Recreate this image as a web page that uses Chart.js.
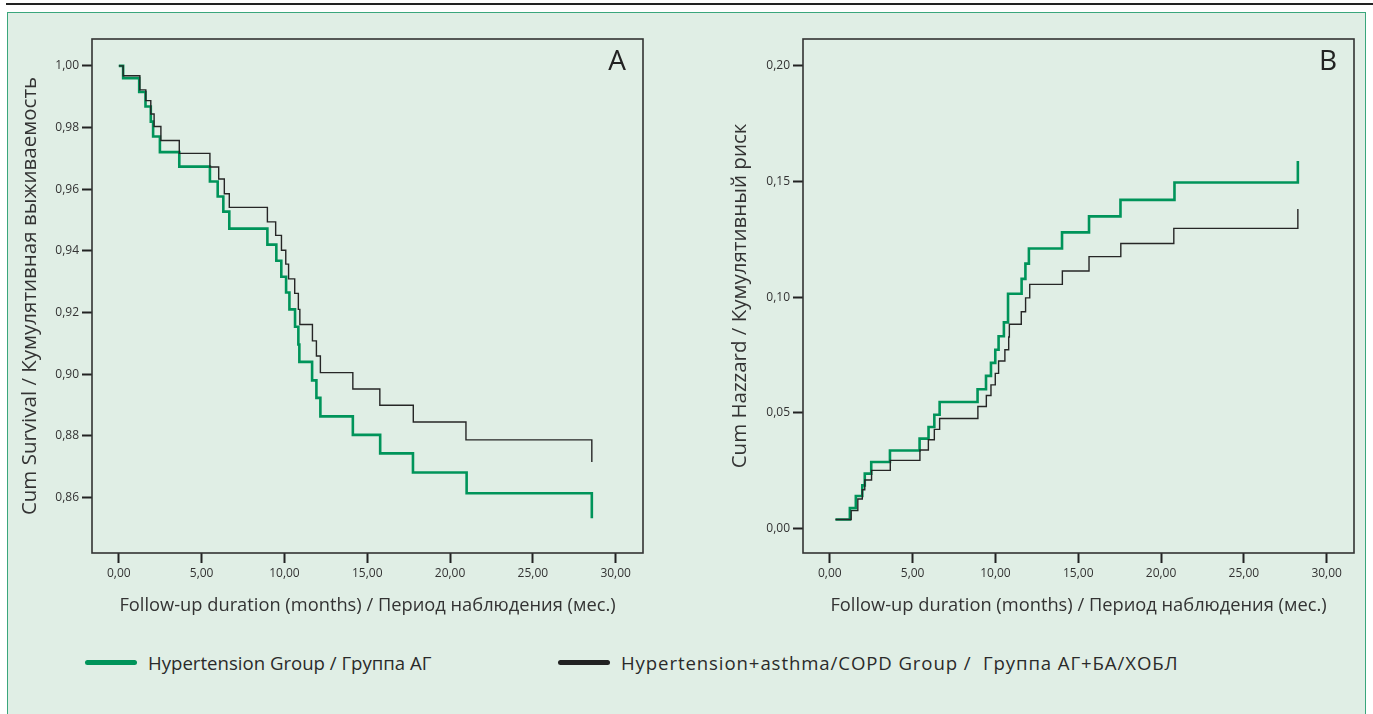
<!DOCTYPE html>
<html>
<head>
<meta charset="utf-8">
<script src="https://cdn.jsdelivr.net/npm/chart.js@4.4.1/dist/chart.umd.min.js"></script>
<style>
  html, body { margin: 0; padding: 0; background: #fff; }
  body { width: 1373px; height: 714px; position: relative; overflow: hidden; font-family: "Open Sans", sans-serif; }
  #topline { position: absolute; left: 6px; top: 3px; width: 1367px; height: 1.5px; background: #222; }
  #panel { position: absolute; left: 7px; top: 12px; width: 1357px; height: 720px; background: #e0eee5; border: 1.5px solid #3aa67c; }
  canvas { position: absolute; top: 0; }
  #chartA { left: 0; }
  #chartB { left: 690px; }
  .legend-item { position: absolute; top: 650px; display: flex; align-items: center; color: #2a2a2a; font-size: 18.6px; white-space: pre; }
  .swatch { width: 52px; height: 5px; border-radius: 3px; margin-right: 11px; }
</style>
</head>
<body>
<div id="topline"></div>
<div id="panel"></div>
<canvas id="chartA" width="690" height="640"></canvas>
<canvas id="chartB" width="683" height="640"></canvas>
<div class="legend-item" style="left:85px"><div class="swatch" style="background:#00945a"></div>Hypertension Group / Группа АГ</div>
<div class="legend-item" style="left:558px; letter-spacing:0.9px"><div class="swatch" style="background:#222"></div>Hypertension+asthma/COPD Group /  Группа АГ+БА/ХОБЛ</div>
<script>
const xTickValues = [0, 5, 10, 15, 20, 25, 30];
const survivalTicks = [0.86, 0.88, 0.90, 0.92, 0.94, 0.96, 0.98, 1.00];
const hazardTicks = [0, 0.05, 0.10, 0.15, 0.20];

const groupNames = ["Hypertension Group / Группа АГ", "Hypertension+asthma/COPD Group / Группа АГ+БА/ХОБЛ"];

// panel A - survival
const survGreenTime = [0, 0.26, 1.23, 1.61, 1.93, 2.07, 2.48, 3.65, 5.5, 5.97, 6.31, 6.67, 8.97, 9.51, 9.81, 10.1, 10.3, 10.64, 10.84, 10.9, 11.67, 11.93, 12.17, 14.13, 15.78, 17.76, 21.0, 28.56, 28.56];
const survGreenValue = [1.0, 0.996, 0.9915, 0.9868, 0.9819, 0.9771, 0.972, 0.9673, 0.9625, 0.9576, 0.9527, 0.9472, 0.942, 0.9368, 0.9316, 0.9265, 0.921, 0.9154, 0.9096, 0.904, 0.898, 0.8923, 0.8863, 0.8803, 0.8743, 0.8681, 0.8614, 0.8614, 0.8533];
const survBlackTime = [0, 0.26, 1.27, 1.63, 1.93, 2.13, 2.54, 3.65, 5.5, 6.03, 6.37, 6.67, 8.97, 9.47, 9.82, 10.08, 10.25, 10.62, 10.84, 10.93, 11.69, 11.93, 12.17, 14.13, 15.76, 17.78, 20.96, 28.56, 28.56];
const survBlackValue = [1.0, 0.9968, 0.9922, 0.9887, 0.9844, 0.9803, 0.9758, 0.9716, 0.9672, 0.9633, 0.9585, 0.9541, 0.9494, 0.945, 0.9402, 0.9357, 0.9309, 0.9262, 0.921, 0.9161, 0.9108, 0.9059, 0.9005, 0.8952, 0.8899, 0.8845, 0.8787, 0.8787, 0.8715];

// panel B - cumulative hazard
const hazGreenTime = [0.34, 1.21, 1.57, 1.96, 2.11, 2.5, 3.63, 5.42, 5.96, 6.31, 6.63, 8.92, 9.43, 9.73, 9.99, 10.19, 10.51, 10.76, 11.58, 11.81, 12.02, 14.02, 15.65, 17.55, 20.81, 28.26, 28.26];
const hazGreenValue = [0.004, 0.0089, 0.0141, 0.0187, 0.0238, 0.0288, 0.0338, 0.0389, 0.0439, 0.0492, 0.0547, 0.0602, 0.066, 0.0716, 0.0773, 0.0831, 0.0891, 0.1015, 0.1079, 0.1145, 0.121, 0.128, 0.1349, 0.142, 0.1495, 0.1495, 0.1588];
const hazBlackTime = [0.34, 1.29, 1.69, 1.96, 2.11, 2.52, 3.65, 5.44, 5.95, 6.31, 6.63, 8.94, 9.45, 9.73, 9.99, 10.19, 10.57, 10.8, 10.84, 11.56, 11.82, 12.07, 14.04, 15.65, 17.57, 20.77, 28.26, 28.26];
const hazBlackValue = [0.004, 0.0078, 0.0128, 0.0168, 0.021, 0.0252, 0.0295, 0.034, 0.0384, 0.0429, 0.0476, 0.0528, 0.0575, 0.0621, 0.0671, 0.0724, 0.0773, 0.0828, 0.0883, 0.0937, 0.0997, 0.1055, 0.1113, 0.1175, 0.1232, 0.1297, 0.1297, 0.1381];

const GREEN = "#00945a";
const BLACK = "#262626";
const TEXT = "#333";

function points(ts, vs) {
  return ts.map((t, i) => ({ x: t, y: vs[i] }));
}

function comma(v) {
  return Number(v).toFixed(2).replace(".", ",");
}

const frameAndLetter = {
  id: "frameAndLetter",
  afterDraw(chart, args, opts) {
    const { ctx, chartArea: a } = chart;
    ctx.save();
    ctx.strokeStyle = "#333";
    ctx.lineWidth = 1.6;
    ctx.strokeRect(a.left, a.top, a.right - a.left, a.bottom - a.top);
    ctx.fillStyle = "#222";
    ctx.font = "28px 'Open Sans'";
    ctx.textAlign = "center";
    ctx.textBaseline = "middle";
    ctx.fillText(opts.letter, a.right - 26, a.top + 23);
    ctx.restore();
  }
};

function makeChart(id, cfg) {
  return new Chart(document.getElementById(id), {
    type: "line",
    data: {
      datasets: [
        { label: groupNames[1], data: points(cfg.blackT, cfg.blackV), borderColor: BLACK, borderWidth: 1.4 },
        { label: groupNames[0], data: points(cfg.greenT, cfg.greenV), borderColor: GREEN, borderWidth: 2.6 }
      ]
    },
    options: {
      responsive: false,
      animation: false,
      elements: { point: { radius: 0 }, line: { stepped: true, tension: 0, fill: false, borderCapStyle: "butt" } },
      layout: { padding: { top: 39, right: cfg.right, left: 0, bottom: 0 } },
      plugins: { legend: { display: false }, tooltip: { enabled: false }, frameAndLetter: { letter: cfg.letter } },
      scales: {
        x: {
          type: "linear",
          min: -1.62,
          max: 31.65,
          afterBuildTicks: (s) => { s.ticks = xTickValues.map((v) => ({ value: v })); },
          afterFit: (s) => { s.height = 87; },
          grid: { drawOnChartArea: false, drawTicks: true, tickLength: 10, tickColor: "#222", tickWidth: 2 },
          border: { display: false },
          ticks: { autoSkip: false, maxRotation: 0, padding: 3, color: TEXT, font: { family: "Open Sans", size: 12 }, callback: (v) => comma(v) },
          title: { display: true, text: "Follow-up duration (months) / Период наблюдения (мес.)", color: TEXT, font: { family: "Open Sans", size: 18.3 }, padding: { top: 0, bottom: 23 } }
        },
        y: {
          type: "linear",
          min: cfg.yMin,
          max: cfg.yMax,
          afterBuildTicks: (s) => { s.ticks = cfg.yTicks.map((v) => ({ value: v })); },
          afterFit: (s) => { s.width = cfg.yWidth; },
          grid: { drawOnChartArea: false, drawTicks: true, tickLength: 10, tickColor: "#222", tickWidth: 2 },
          border: { display: false },
          ticks: { autoSkip: false, padding: 3, color: TEXT, font: { family: "Open Sans", size: 12 }, callback: (v) => comma(v) },
          title: { display: true, text: cfg.yTitle, color: TEXT, font: { family: "Open Sans", size: 20.5 }, padding: { top: cfg.yTitlePad, bottom: 0 } }
        }
      }
    },
    plugins: [frameAndLetter]
  });
}

makeChart("chartA", {
  letter: "A",
  right: 47,
  yWidth: 92,
  yTitlePad: 18,
  yMin: 0.842,
  yMax: 1.0087,
  yTicks: survivalTicks,
  yTitle: "Cum Survival / Кумулятивная выживаемость",
  greenT: survGreenTime, greenV: survGreenValue,
  blackT: survBlackTime, blackV: survBlackValue
});

makeChart("chartB", {
  letter: "B",
  right: 19,
  yWidth: 113,
  yTitlePad: 38,
  yMin: -0.0105,
  yMax: 0.2115,
  yTicks: hazardTicks,
  yTitle: "Cum Hazzard / Кумулятивный риск",
  greenT: hazGreenTime, greenV: hazGreenValue,
  blackT: hazBlackTime, blackV: hazBlackValue
});
</script>
</body>
</html>
